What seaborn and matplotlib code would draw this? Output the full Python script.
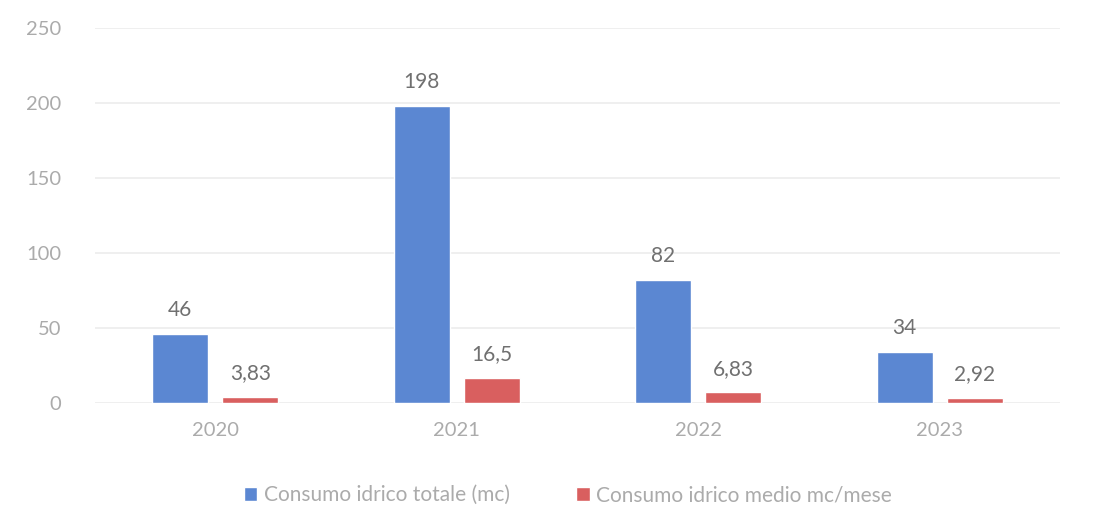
import matplotlib
matplotlib.use("Agg")
import matplotlib.pyplot as plt
import seaborn as sns
import pandas as pd

years = ["2020", "2021", "2022", "2023"]
totale = [46, 198, 82, 34]
medio = [3.83, 16.5, 6.83, 2.92]
series_names = ["Consumo idrico totale (mc)", "Consumo idrico medio mc/mese"]
label_totale = ["46", "198", "82", "34"]
label_medio = ["3,83", "16,5", "6,83", "2,92"]
yticks = [0, 50, 100, 150, 200, 250]

df = pd.DataFrame({
    "Anno": years * 2,
    "Valore": totale + medio,
    "Serie": [series_names[0]] * 4 + [series_names[1]] * 4,
})

sns.set_theme(style="white")
plt.rcParams["font.family"] = ["Lato", "DejaVu Sans"]
plt.rcParams["font.weight"] = "normal"

fig = plt.figure(figsize=(11, 5.21), dpi=100)
ax = fig.add_axes([0.086, 0.227, 0.878, 0.72])

palette = {series_names[0]: "#5b87d2", series_names[1]: "#d95f5f"}
sns.barplot(data=df, x="Anno", y="Valore", hue="Serie", palette=palette,
            width=0.58, gap=0.2, ax=ax, saturation=1, legend=True, errorbar=None)

ax.set_ylim(0, 250)
ax.set_yticks(yticks)
ax.set_yticklabels([str(t) for t in yticks])
ax.yaxis.grid(True, color="#ececec", linewidth=1.2)
ax.set_axisbelow(True)
for s in ax.spines.values():
    s.set_visible(False)
ax.set_xlabel("")
ax.set_ylabel("")
ax.tick_params(axis="both", colors="#ababab", labelsize=14.5, length=0)
ax.tick_params(axis="y", pad=24)
ax.tick_params(axis="x", pad=14)

for cont, labs in zip(ax.containers, [label_totale, label_medio]):
    ax.bar_label(cont, labels=labs, padding=10, color="#707070", fontsize=15)

leg = ax.legend(loc="upper center", bbox_to_anchor=(0.49, -0.17), ncol=2,
                frameon=False, fontsize=15, handlelength=0.65, handleheight=0.65,
                handletextpad=0.3, columnspacing=3.2)
for t in leg.get_texts():
    t.set_color("#ababab")

fig.savefig("out.png", dpi=100, facecolor="white")
